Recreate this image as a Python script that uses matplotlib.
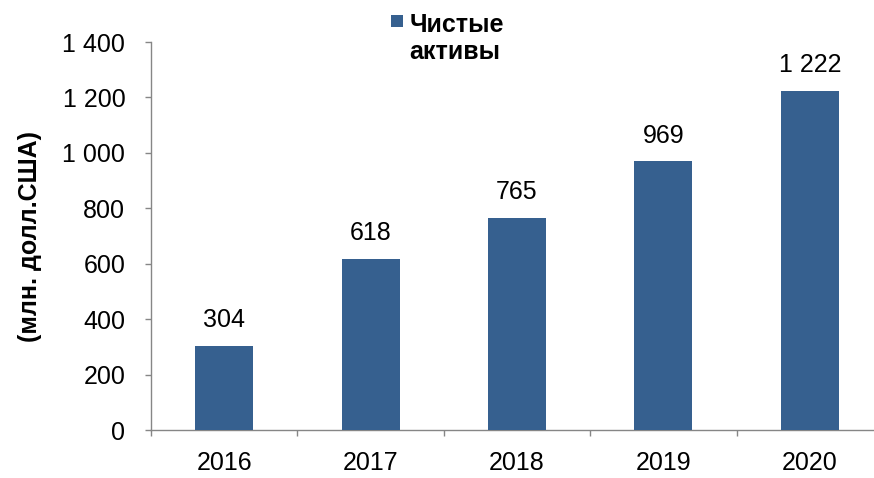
import matplotlib
matplotlib.use("Agg")
import matplotlib.pyplot as plt
from matplotlib.ticker import FuncFormatter, FixedLocator
from matplotlib.patches import Rectangle
from matplotlib.legend_handler import HandlerPatch
from matplotlib.container import BarContainer

plt.rcParams['font.family'] = ['Liberation Sans', 'DejaVu Sans']

years = ["2016", "2017", "2018", "2019", "2020"]
values = [304, 618, 765, 969, 1222]
series_name = "Чистые\nактивы"
y_label = "(млн. долл.США)"

bar_color = "#36608F"
spine_color = "#868686"
FS = 18


def fmt(v):
    return f"{int(v):,}".replace(",", " ")


class TopSquare(HandlerPatch):
    def create_artists(self, legend, orig_handle, xdescent, ydescent, width, height, fontsize, trans):
        size = 0.5 * fontsize
        p = Rectangle((-xdescent + width - size, -ydescent + height / 2 - size / 2 + 0.72 * fontsize),
                      size, size, facecolor=bar_color, edgecolor="none",
                      transform=trans)
        return [p]


fig = plt.figure(figsize=(8.74, 4.78), dpi=100)
ax = fig.add_axes([0.1728, 0.1004, 0.8375, 0.8117])

x = list(range(len(years)))
bars = ax.bar(x, values, width=0.395, color=bar_color, label=series_name, zorder=3)

ax.set_xlim(-0.5, len(years) - 0.5)
ax.set_ylim(0, 1400)
ax.set_yticks(range(0, 1401, 200))
ax.yaxis.set_major_formatter(FuncFormatter(lambda v, p: fmt(v)))

ax.set_xticks(x)
ax.set_xticklabels(years, fontsize=FS)
ax.tick_params(axis='x', which='major', length=0, pad=15)
ax.xaxis.set_minor_locator(FixedLocator([i - 0.5 for i in range(len(years) + 1)]))
ax.tick_params(axis='x', which='minor', length=4.5, color=spine_color, width=1)
ax.tick_params(axis='y', labelsize=FS, length=4.5, color=spine_color, width=1, pad=14)

for s in ["top", "right"]:
    ax.spines[s].set_visible(False)
for s in ["left", "bottom"]:
    ax.spines[s].set_color(spine_color)
    ax.spines[s].set_linewidth(1)

for b, v in zip(bars, values):
    ax.annotate(fmt(v), (b.get_x() + b.get_width() / 2, v),
                xytext=(0, 10), textcoords="offset points", ha="center", va="bottom",
                fontsize=FS)

ax.set_ylabel(y_label, fontsize=FS, fontweight="bold")
ax.yaxis.set_label_coords(0.048, 0.505, transform=fig.transFigure)

leg = fig.legend(loc="upper left", bbox_to_anchor=(0.433, 1.0), frameon=False,
                 prop={"size": FS, "weight": "bold"}, handlelength=0.5, handleheight=0.7,
                 handletextpad=0.25, borderaxespad=0.1,
                 handler_map={BarContainer: TopSquare()})

fig.savefig("out.png", dpi=100)
